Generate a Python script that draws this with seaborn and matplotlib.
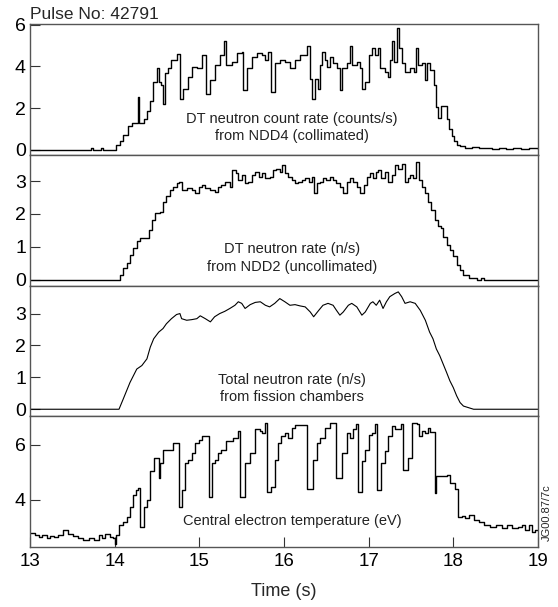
import numpy as np
import pandas as pd
import seaborn as sns
import matplotlib.pyplot as plt

# NDD4 collimated DT neutron count rate (counts/s)
ndd4_t = [13.00, 13.72, 13.74, 13.84, 13.86, 14.02, 14.06, 14.10, 14.16, 14.20,
          14.27, 14.29, 14.34, 14.38, 14.42, 14.45, 14.50, 14.52, 14.55, 14.57,
          14.59, 14.63, 14.67, 14.73, 14.77, 14.81, 14.86, 14.91, 14.97, 15.03,
          15.08, 15.13, 15.18, 15.24, 15.29, 15.31, 15.38, 15.44, 15.50, 15.52,
          15.56, 15.62, 15.68, 15.74, 15.78, 15.81, 15.85, 15.89, 15.95, 16.01,
          16.07, 16.13, 16.19, 16.27, 16.31, 16.33, 16.37, 16.40, 16.42, 16.45,
          16.48, 16.51, 16.54, 16.58, 16.63, 16.66, 16.69, 16.74, 16.78, 16.80,
          16.86, 16.90, 16.92, 16.96, 17.00, 17.04, 17.07, 17.11, 17.13, 17.19,
          17.23, 17.25, 17.28, 17.30, 17.34, 17.36, 17.39, 17.43, 17.49, 17.53,
          17.56, 17.58, 17.63, 17.67, 17.69, 17.72, 17.77, 17.80, 17.82, 17.86,
          17.92, 17.95, 17.98, 18.01, 18.04, 18.08, 18.14, 18.22, 18.30, 18.38,
          18.46, 18.54, 18.62, 18.70, 18.80, 18.90, 19.00]
ndd4_rate = [0.00, 0.08, 0.00, 0.08, 0.00, 0.25, 0.40, 0.73, 1.14, 1.30,
             2.52, 1.30, 1.46, 1.87, 2.36, 3.25, 3.90, 3.25, 3.10, 2.20,
             3.66, 3.90, 4.30, 4.60, 2.44, 2.90, 3.50, 3.98, 3.90, 4.55,
             2.68, 3.33, 4.07, 4.55, 5.20, 4.07, 4.20, 4.63, 4.70, 2.85,
             3.90, 4.47, 4.63, 4.55, 4.30, 4.70, 2.76, 4.15, 4.30, 4.20,
             3.90, 4.30, 4.55, 4.96, 3.40, 2.44, 3.40, 2.93, 4.07, 4.70,
             4.30, 3.98, 4.47, 4.15, 3.90, 2.85, 3.90, 4.15, 4.96, 4.07,
             4.20, 3.90, 2.93, 3.25, 4.55, 4.88, 4.55, 4.88, 3.90, 3.74,
             3.50, 4.30, 5.20, 4.20, 5.85, 4.88, 4.15, 3.74, 3.90, 3.74,
             4.88, 4.07, 4.15, 3.33, 4.15, 3.82, 3.09, 2.03, 1.54, 2.11,
             1.46, 0.98, 0.65, 0.41, 0.24, 0.16, 0.08, 0.12, 0.06, 0.10,
             0.05, 0.10, 0.05, 0.10, 0.05, 0.08, 0.05]

# NDD2 uncollimated DT neutron rate (n/s)
ndd2_t = [13.00, 14.04, 14.06, 14.10, 14.14, 14.18, 14.22, 14.26, 14.30, 14.40,
          14.44, 14.48, 14.54, 14.57, 14.61, 14.65, 14.69, 14.73, 14.76, 14.79,
          14.85, 14.91, 14.95, 14.99, 15.03, 15.07, 15.13, 15.18, 15.22, 15.26,
          15.30, 15.36, 15.39, 15.43, 15.46, 15.50, 15.54, 15.58, 15.62, 15.66,
          15.70, 15.74, 15.78, 15.83, 15.87, 15.91, 15.95, 15.98, 16.01, 16.05,
          16.09, 16.13, 16.17, 16.21, 16.25, 16.29, 16.33, 16.35, 16.39, 16.43,
          16.46, 16.50, 16.54, 16.58, 16.62, 16.66, 16.70, 16.74, 16.78, 16.82,
          16.86, 16.90, 16.94, 16.98, 17.02, 17.05, 17.09, 17.11, 17.15, 17.19,
          17.23, 17.27, 17.31, 17.35, 17.39, 17.43, 17.46, 17.49, 17.52, 17.56,
          17.59, 17.63, 17.67, 17.70, 17.74, 17.78, 17.82, 17.86, 17.88, 17.92,
          17.96, 18.00, 18.04, 18.08, 18.12, 18.18, 18.28, 18.33, 18.36, 19.00]
ndd2_rate = [0.00, 0.00, 0.15, 0.35, 0.50, 0.76, 0.96, 1.16, 1.26, 1.50,
             1.80, 2.04, 2.07, 2.37, 2.53, 2.73, 2.83, 2.93, 2.98, 2.73,
             2.78, 2.73, 2.63, 2.83, 2.88, 2.78, 2.73, 2.68, 2.83, 2.88,
             2.98, 2.83, 3.33, 3.23, 3.03, 3.18, 2.93, 2.98, 3.18, 3.28,
             3.13, 3.23, 3.08, 3.13, 3.33, 3.38, 3.28, 3.48, 3.23, 3.13,
             3.03, 2.93, 2.98, 3.03, 3.08, 2.98, 3.13, 2.63, 2.93, 2.98,
             3.08, 3.03, 3.13, 3.03, 2.93, 2.83, 2.63, 2.98, 3.08, 2.98,
             2.83, 2.63, 2.88, 3.13, 3.23, 3.08, 3.28, 3.33, 3.08, 3.28,
             2.98, 3.18, 3.48, 3.38, 3.53, 2.98, 3.08, 3.18, 3.08, 3.58,
             3.03, 2.83, 2.63, 2.37, 2.12, 1.82, 1.62, 1.57, 1.31, 1.06,
             0.91, 0.71, 0.45, 0.30, 0.15, 0.05, 0.00, 0.05, 0.00, 0.00]

# total neutron rate from fission chambers (n/s)
fc_t = [13.00, 14.05, 14.10, 14.14, 14.18, 14.22, 14.26, 14.32, 14.38, 14.42,
        14.46, 14.52, 14.57, 14.61, 14.67, 14.73, 14.77, 14.79, 14.85, 14.91,
        14.97, 15.01, 15.07, 15.13, 15.18, 15.24, 15.30, 15.36, 15.42, 15.46,
        15.50, 15.54, 15.60, 15.66, 15.72, 15.78, 15.83, 15.89, 15.95, 16.01,
        16.07, 16.13, 16.19, 16.25, 16.31, 16.35, 16.41, 16.46, 16.52, 16.58,
        16.62, 16.66, 16.70, 16.76, 16.80, 16.86, 16.92, 16.96, 17.02, 17.05,
        17.09, 17.13, 17.17, 17.21, 17.25, 17.31, 17.35, 17.39, 17.43, 17.49,
        17.55, 17.61, 17.67, 17.72, 17.76, 17.80, 17.84, 17.88, 17.92, 17.96,
        18.00, 18.04, 18.08, 18.12, 18.18, 18.24, 19.00]
fc_rate = [0.00, 0.00, 0.32, 0.58, 0.84, 1.05, 1.26, 1.37, 1.58, 1.95,
           2.21, 2.42, 2.53, 2.68, 2.84, 2.97, 3.00, 2.84, 2.79, 2.81,
           2.84, 2.93, 2.84, 2.74, 2.90, 3.00, 3.07, 3.16, 3.26, 3.37,
           3.32, 3.16, 3.28, 3.35, 3.37, 3.26, 3.21, 3.32, 3.47, 3.37,
           3.26, 3.28, 3.24, 3.21, 3.05, 2.90, 3.10, 3.26, 3.32, 3.26,
           3.10, 2.95, 3.05, 3.26, 3.32, 3.21, 2.95, 3.05, 3.32, 3.37,
           3.26, 3.42, 3.16, 3.37, 3.53, 3.63, 3.68, 3.53, 3.32, 3.37,
           3.32, 3.10, 2.79, 2.42, 2.21, 1.89, 1.68, 1.42, 1.16, 0.89,
           0.68, 0.42, 0.21, 0.10, 0.05, 0.00, 0.00]

# central electron temperature (eV)
te_t = [13.00, 13.06, 13.10, 13.14, 13.20, 13.24, 13.28, 13.33, 13.39, 13.45,
        13.51, 13.57, 13.63, 13.69, 13.75, 13.81, 13.85, 13.89, 13.94, 13.98,
        14.00, 14.02, 14.05, 14.10, 14.14, 14.18, 14.22, 14.25, 14.28, 14.30,
        14.35, 14.38, 14.42, 14.46, 14.52, 14.54, 14.57, 14.63, 14.69, 14.76,
        14.79, 14.83, 14.87, 14.91, 14.95, 14.99, 15.03, 15.11, 15.15, 15.18,
        15.22, 15.26, 15.31, 15.40, 15.46, 15.48, 15.54, 15.60, 15.66, 15.72,
        15.74, 15.78, 15.80, 15.85, 15.89, 15.93, 15.97, 16.01, 16.05, 16.09,
        16.13, 16.27, 16.34, 16.39, 16.43, 16.48, 16.54, 16.61, 16.69, 16.74,
        16.78, 16.82, 16.85, 16.87, 16.92, 16.96, 17.00, 17.04, 17.07, 17.10,
        17.15, 17.19, 17.23, 17.27, 17.31, 17.38, 17.40, 17.46, 17.51, 17.57,
        17.59, 17.63, 17.67, 17.70, 17.72, 17.78, 17.80, 17.86, 17.92, 17.96,
        18.02, 18.06, 18.10, 18.14, 18.18, 18.24, 18.30, 18.36, 18.43, 18.51,
        18.57, 18.63, 18.69, 18.77, 18.81, 18.85, 18.89, 18.93, 18.96, 19.00]
te_ev = [2.79, 2.73, 2.67, 2.73, 2.61, 2.70, 2.65, 2.73, 2.91, 2.76,
         2.70, 2.61, 2.55, 2.61, 2.55, 2.73, 2.61, 2.76, 2.67, 2.61,
         2.42, 2.73, 3.09, 3.21, 3.39, 3.76, 4.18, 4.36, 4.42, 3.03,
         3.76, 4.00, 5.03, 5.52, 4.79, 5.33, 5.82, 5.80, 6.06, 3.76,
         4.36, 5.33, 5.45, 5.70, 6.06, 6.18, 6.30, 4.12, 5.33, 5.45,
         5.70, 5.82, 6.12, 6.24, 6.48, 4.12, 5.33, 5.70, 6.55, 6.48,
         6.42, 6.79, 4.30, 4.48, 5.45, 6.06, 6.30, 6.42, 6.24, 6.60,
         6.70, 4.40, 5.45, 6.06, 6.24, 6.60, 6.79, 4.79, 5.70, 6.42,
         6.24, 6.55, 6.73, 4.27, 5.39, 5.82, 6.36, 6.40, 6.73, 4.36,
         5.33, 5.76, 6.30, 6.67, 6.55, 6.73, 5.09, 5.50, 6.79, 6.73,
         6.30, 6.48, 6.42, 6.60, 6.45, 4.24, 4.85, 4.85, 4.90, 4.61,
         4.40, 3.39, 3.42, 3.36, 3.45, 3.27, 3.21, 3.09, 3.03, 3.09,
         2.97, 3.09, 2.97, 3.03, 3.09, 2.91, 3.09, 2.85, 2.91, 2.91]

labels = ['DT neutron count rate (counts/s)\nfrom NDD4 (collimated)',
          'DT neutron rate (n/s)\nfrom NDD2 (uncollimated)',
          'Total neutron rate (n/s)\nfrom fission chambers',
          'Central electron temperature (eV)']

sns.set_style('ticks')
plt.rcParams['font.family'] = ['Liberation Sans', 'DejaVu Sans']

fig, axes = plt.subplots(4, 1, sharex=True, figsize=(5.58, 6.07), dpi=100,
                         gridspec_kw={'hspace': 0})
fig.subplots_adjust(left=0.054, right=0.964, top=0.9605, bottom=0.0988)

series = [(ndd4_t, ndd4_rate, 'steps-post', 1.0),
          (ndd2_t, ndd2_rate, 'steps-post', 1.0),
          (fc_t, fc_rate, 'default', 0.8),
          (te_t, te_ev, 'steps-post', 1.0)]
ylims = [(-0.24, 6.03), (-0.18, 3.8), (-0.22, 3.88), (2.3, 7.02)]
yticks = [[0, 2, 4, 6], [0, 1, 2, 3], [0, 1, 2, 3], [4, 6]]

for i, ax in enumerate(axes):
    t, v, ds, lw = series[i]
    sns.lineplot(x=t, y=v, ax=ax, color='black', lw=lw, drawstyle=ds,
                 estimator=None, sort=False)
    ax.set_ylim(*ylims[i])
    ax.set_yticks(yticks[i])
    ax.set_ylabel('')
    ax.tick_params(axis='y', direction='in', length=7, width=0.8,
                   labelsize=14, pad=3, colors='#333333', labelcolor='black')
    for s in ax.spines.values():
        s.set_visible(True)
        s.set_color('#555555')
        s.set_linewidth(1.0)
    ax.text(0.516, 0.2 if i == 3 else 0.21, labels[i], transform=ax.transAxes,
            ha='center', va='center', fontsize=10.5, linespacing=1.3,
            color='#222222')
    if i < 3:
        ax.tick_params(axis='x', length=0, labelbottom=False)

ax = axes[-1]
ax.set_xlim(13, 19)
ax.set_xticks([13, 14, 15, 16, 17, 18, 19])
ax.tick_params(axis='x', direction='in', length=7, width=0.8,
               labelsize=13.5, pad=4, colors='#333333', labelcolor='black')
ax.set_xlabel('Time (s)', fontsize=13, labelpad=10)

fig.text(0.054, 0.963, 'Pulse No: 42791', ha='left', va='bottom', fontsize=12.5)
fig.text(0.979, 0.156, 'JG00.87/7c', rotation=90, ha='center', va='center',
         fontsize=8)

fig.savefig('out.png', dpi=100)
